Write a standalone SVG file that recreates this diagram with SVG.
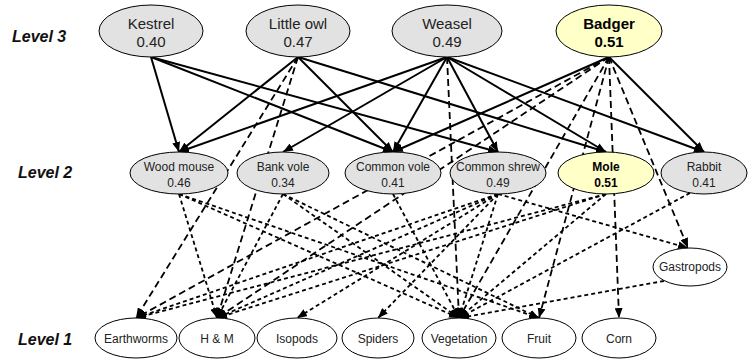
<svg xmlns="http://www.w3.org/2000/svg" width="749" height="360" viewBox="0 0 749 360">
  <defs>
    <marker id="arrow" markerUnits="userSpaceOnUse" markerWidth="11" markerHeight="8" refX="10" refY="4" orient="auto">
      <path d="M0,0 L10,4 L0,8 z" fill="#000" stroke="none"/>
    </marker>
    <style>
      .lvl { font-family: "Liberation Sans", Arial, sans-serif; font-size: 16px; font-weight: bold; font-style: italic; fill: #111; }
      .top { fill: #e2e2e2; stroke: #000; stroke-width: 1; }
      .mid { fill: #e2e2e2; stroke: #000; stroke-width: 1; }
      .base { fill: #fff; stroke: #000; stroke-width: 1; }
      .hl { fill: #ffffc8; }
      .t3 { font-family: "Liberation Sans", Arial, sans-serif; font-size: 15px; fill: #222; text-anchor: middle; }
      .t2 { font-family: "Liberation Sans", Arial, sans-serif; font-size: 12px; fill: #222; text-anchor: middle; }
      .b { font-weight: bold; fill: #000; }
      .solid { stroke: #000; stroke-width: 2; fill: none; marker-end: url(#arrow); }
      .long { stroke: #000; stroke-width: 1.8; fill: none; stroke-dasharray: 7 4; marker-end: url(#arrow); }
      .short { stroke: #000; stroke-width: 1.8; fill: none; stroke-dasharray: 4 3; marker-end: url(#arrow); }
    </style>
  </defs>

  <rect width="749" height="360" fill="#fff"/>

  <!-- level captions -->
  <text class="lvl" x="12" y="42">Level 3</text>
  <text class="lvl" x="18" y="178">Level 2</text>
  <text class="lvl" x="18" y="345">Level 1</text>

  <!-- trophic links -->
  <g id="connectors">
    <!-- predators on level 2 prey -->
    <line class="solid" x1="151" y1="57" x2="179" y2="152"/>
    <line class="solid" x1="151" y1="57" x2="393" y2="152"/>
    <line class="solid" x1="151" y1="57" x2="498" y2="152"/>
    <line class="solid" x1="298" y1="57" x2="179" y2="152"/>
    <line class="solid" x1="298" y1="57" x2="393" y2="152"/>
    <line class="solid" x1="298" y1="57" x2="606" y2="152"/>
    <line class="solid" x1="447" y1="57" x2="179" y2="152"/>
    <line class="solid" x1="447" y1="57" x2="283" y2="152"/>
    <line class="solid" x1="447" y1="57" x2="393" y2="152"/>
    <line class="solid" x1="447" y1="57" x2="498" y2="152"/>
    <line class="solid" x1="447" y1="57" x2="606" y2="152"/>
    <line class="solid" x1="447" y1="57" x2="704" y2="152"/>
    <line class="solid" x1="609" y1="57" x2="393" y2="152"/>
    <line class="solid" x1="609" y1="57" x2="704" y2="152"/>

    <!-- predators on level 1 resources -->
    <line class="long" x1="298" y1="57" x2="136" y2="318"/>
    <line class="long" x1="298" y1="57" x2="217" y2="318"/>
    <line class="long" x1="447" y1="57" x2="459" y2="318"/>
    <line class="long" x1="609" y1="57" x2="136" y2="318"/>
    <line class="long" x1="609" y1="57" x2="217" y2="318"/>
    <line class="long" x1="609" y1="57" x2="459" y2="318"/>
    <line class="long" x1="609" y1="57" x2="539" y2="318"/>
    <line class="long" x1="609" y1="57" x2="619" y2="318"/>
    <line class="long" x1="609" y1="57" x2="688" y2="248"/>

    <!-- level 2 on level 1 -->
    <line class="short" x1="179" y1="194" x2="217" y2="318"/>
    <line class="short" x1="179" y1="194" x2="459" y2="318"/>
    <line class="short" x1="179" y1="194" x2="539" y2="318"/>
    <line class="short" x1="283" y1="194" x2="217" y2="318"/>
    <line class="short" x1="283" y1="194" x2="459" y2="318"/>
    <line class="short" x1="283" y1="194" x2="539" y2="318"/>
    <line class="short" x1="393" y1="194" x2="459" y2="318"/>
    <line class="short" x1="498" y1="194" x2="136" y2="318"/>
    <line class="short" x1="498" y1="194" x2="217" y2="318"/>
    <line class="short" x1="498" y1="194" x2="297" y2="318"/>
    <line class="short" x1="498" y1="194" x2="378" y2="318"/>
    <line class="short" x1="498" y1="194" x2="459" y2="318"/>
    <line class="short" x1="498" y1="194" x2="688" y2="248"/>
    <line class="short" x1="606" y1="194" x2="136" y2="318"/>
    <line class="short" x1="606" y1="194" x2="217" y2="318"/>
    <line class="short" x1="606" y1="194" x2="459" y2="318"/>
    <line class="short" x1="690" y1="193" x2="459" y2="318"/>
    <line class="short" x1="664" y1="281" x2="459" y2="318"/>
  </g>

  <!-- level 3 -->
  <g id="kestrel">
    <ellipse class="top" cx="151" cy="31" rx="52" ry="26"/>
    <text class="t3" x="151" y="29">Kestrel</text>
    <text class="t3" x="151" y="47">0.40</text>
  </g>
  <g id="little-owl">
    <ellipse class="top" cx="298" cy="31" rx="52" ry="26"/>
    <text class="t3" x="298" y="29">Little owl</text>
    <text class="t3" x="298" y="47">0.47</text>
  </g>
  <g id="weasel">
    <ellipse class="top" cx="447" cy="31" rx="55" ry="26"/>
    <text class="t3" x="447" y="29">Weasel</text>
    <text class="t3" x="447" y="47">0.49</text>
  </g>
  <g id="badger">
    <ellipse class="top hl" cx="609" cy="31" rx="53" ry="26"/>
    <text class="t3 b" x="609" y="29">Badger</text>
    <text class="t3 b" x="609" y="47">0.51</text>
  </g>

  <!-- level 2 -->
  <g id="wood-mouse">
    <ellipse class="mid" cx="179" cy="173" rx="49" ry="21"/>
    <text class="t2" x="179" y="171">Wood mouse</text>
    <text class="t2" x="179" y="187">0.46</text>
  </g>
  <g id="bank-vole">
    <ellipse class="mid" cx="283" cy="173" rx="46" ry="21"/>
    <text class="t2" x="283" y="171">Bank vole</text>
    <text class="t2" x="283" y="187">0.34</text>
  </g>
  <g id="common-vole">
    <ellipse class="mid" cx="393" cy="173" rx="48" ry="21"/>
    <text class="t2" x="393" y="171">Common vole</text>
    <text class="t2" x="393" y="187">0.41</text>
  </g>
  <g id="common-shrew">
    <ellipse class="mid" cx="498" cy="173" rx="48" ry="21"/>
    <text class="t2" x="498" y="171">Common shrew</text>
    <text class="t2" x="498" y="187">0.49</text>
  </g>
  <g id="mole">
    <ellipse class="mid hl" cx="606" cy="173" rx="48" ry="21"/>
    <text class="t2 b" x="606" y="171">Mole</text>
    <text class="t2 b" x="606" y="187">0.51</text>
  </g>
  <g id="rabbit">
    <ellipse class="mid" cx="704" cy="173" rx="43" ry="21"/>
    <text class="t2" x="704" y="171">Rabbit</text>
    <text class="t2" x="704" y="187">0.41</text>
  </g>

  <!-- level 1 -->
  <g id="gastropods">
    <ellipse class="base" cx="690" cy="267" rx="37" ry="19"/>
    <text class="t2" x="690" y="271">Gastropods</text>
  </g>
  <g id="earthworms">
    <ellipse class="base" cx="136" cy="338" rx="41" ry="20"/>
    <text class="t2" x="136" y="343">Earthworms</text>
  </g>
  <g id="h-and-m">
    <ellipse class="base" cx="217" cy="338" rx="38" ry="20"/>
    <text class="t2" x="217" y="343">H &amp; M</text>
  </g>
  <g id="isopods">
    <ellipse class="base" cx="297" cy="338" rx="40" ry="20"/>
    <text class="t2" x="297" y="343">Isopods</text>
  </g>
  <g id="spiders">
    <ellipse class="base" cx="378" cy="338" rx="36" ry="20"/>
    <text class="t2" x="378" y="343">Spiders</text>
  </g>
  <g id="vegetation">
    <ellipse class="base" cx="459" cy="338" rx="37" ry="20"/>
    <text class="t2" x="459" y="343">Vegetation</text>
  </g>
  <g id="fruit">
    <ellipse class="base" cx="539" cy="338" rx="37" ry="20"/>
    <text class="t2" x="539" y="343">Fruit</text>
  </g>
  <g id="corn">
    <ellipse class="base" cx="619" cy="338" rx="37" ry="20"/>
    <text class="t2" x="619" y="343">Corn</text>
  </g>
</svg>
